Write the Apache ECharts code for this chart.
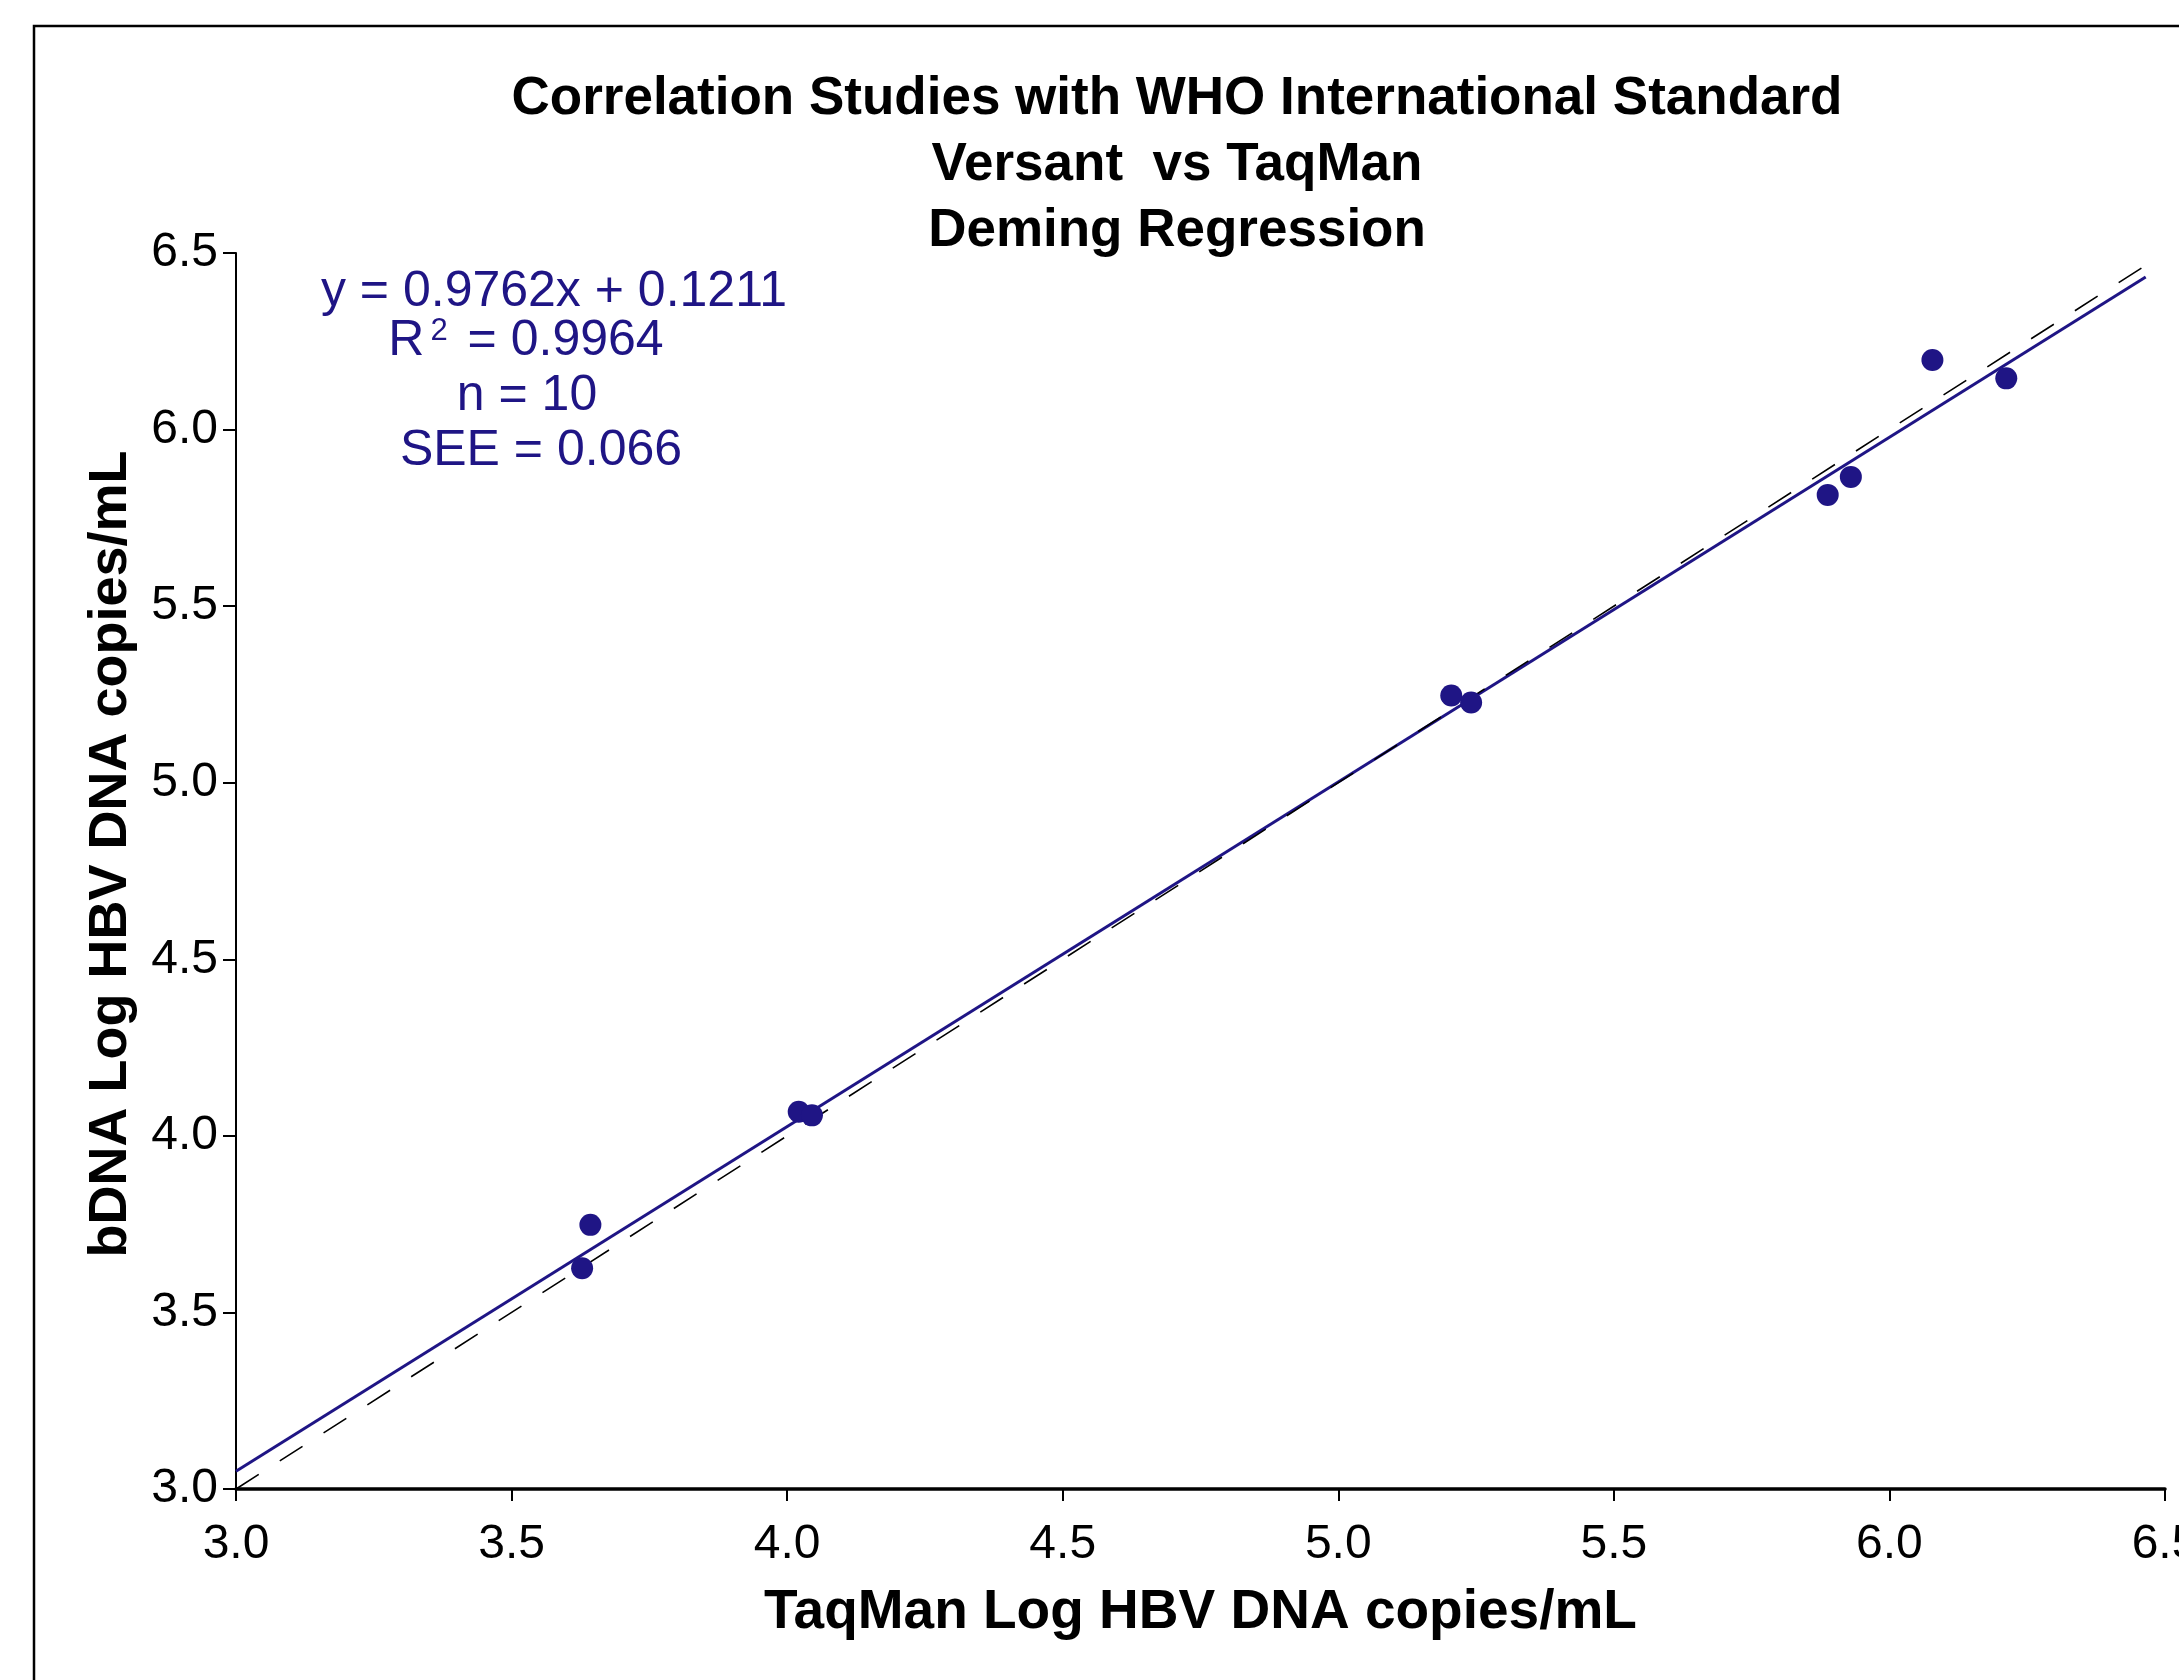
<!DOCTYPE html>
<html>
<head>
<meta charset="utf-8">
<title>Versant vs TaqMan - Deming Regression</title>
<script src="https://cdn.jsdelivr.net/npm/echarts@6/dist/echarts.min.js"></script>
<style>
  html, body { margin: 0; padding: 0; background: #fff; overflow: hidden; }
  #chart { width: 2179px; height: 1680px; }
</style>
</head>
<body>
<div id="chart"></div>
<script>
// measured values (log copies/mL)
const taqman = [3.628, 3.643, 4.021, 4.045, 5.205, 5.241, 5.888, 5.930, 6.078, 6.212];
const bdna   = [3.625, 3.748, 4.068, 4.058, 5.247, 5.227, 5.815, 5.866, 6.197, 6.145];

// Deming fit line and line of identity, end points
const fitX = [3.0, 6.465];
const fitY = [3.050, 6.432];
const idX = [3.0, 6.465];
const idY = [3.0, 6.465];

const titleLines = ['Correlation Studies with WHO International Standard', 'Versant  vs TaqMan', 'Deming Regression'];
const statLines = ['y = 0.9762x + 0.1211', 'R{sup|2} = 0.9964', 'n = 10', 'SEE = 0.066'];
const statCenters = [554, 526, 527, 541];
const statY = [292, 341, 396, 451];

const NAVY = '#1F1585';
const FONT = '"Liberation Sans", Arial, Helvetica, sans-serif';

const chart = echarts.init(document.getElementById('chart'));

const graphics = [{
    type: 'rect',
    shape: { x: 34, y: 26, width: 2300, height: 1800 },
    style: { fill: null, stroke: '#000', lineWidth: 2.5 },
    silent: true
}];
statLines.forEach(function (t, i) {
    graphics.push({
        type: 'text',
        x: statCenters[i],
        y: statY[i],
        style: {
            text: t,
            fill: NAVY,
            font: '50px ' + FONT,
            align: 'center',
            verticalAlign: 'middle',
            rich: {
                sup: { fontSize: 31, fill: NAVY, fontFamily: FONT, verticalAlign: 'top', padding: [0, 6, 18, 6] }
            }
        }
    });
});

chart.setOption({
    backgroundColor: '#fff',
    animation: false,
    title: {
        text: titleLines.join('\n'),
        left: 1172,
        top: 61,
        textAlign: 'center',
        textStyle: {
            fontFamily: FONT,
            fontWeight: 'bold',
            fontSize: 53,
            lineHeight: 66,
            color: '#000'
        }
    },
    grid: { left: 236, right: 14, top: 253, bottom: 191, containLabel: false, outerBoundsMode: 'none' },
    xAxis: {
        type: 'value',
        min: 3.0,
        max: 6.5,
        interval: 0.5,
        name: 'TaqMan Log HBV DNA copies/mL',
        nameLocation: 'middle',
        nameGap: 96,
        nameTextStyle: { fontFamily: FONT, fontWeight: 'bold', fontSize: 55, color: '#000' },
        axisLine: { lineStyle: { color: '#000', width: 3.5 } },
        axisTick: { length: 12, lineStyle: { color: '#000', width: 2 } },
        axisLabel: {
            fontFamily: FONT, fontSize: 48, color: '#000', margin: 32,
            formatter: function (v) { return v.toFixed(1); }
        },
        splitLine: { show: false }
    },
    yAxis: {
        type: 'value',
        min: 3.0,
        max: 6.5,
        interval: 0.5,
        name: 'bDNA Log HBV DNA copies/mL',
        nameLocation: 'middle',
        nameGap: 98,
        nameTextStyle: { fontFamily: FONT, fontWeight: 'bold', fontSize: 54, color: '#000', padding: [0, 0, 0, 34] },
        axisLine: { lineStyle: { color: '#000', width: 2 } },
        axisTick: { length: 13, lineStyle: { color: '#000', width: 2 } },
        axisLabel: {
            fontFamily: FONT, fontSize: 48, color: '#000', margin: 18,
            formatter: function (v) { return v.toFixed(1); }
        },
        splitLine: { show: false }
    },
    series: [
        {
            name: 'Deming fit',
            type: 'line',
            data: fitX.map(function (x, i) { return [x, fitY[i]]; }),
            showSymbol: false,
            lineStyle: { color: NAVY, width: 3 },
            z: 2
        },
        {
            name: 'Identity',
            type: 'line',
            data: idX.map(function (x, i) { return [x, idY[i]]; }),
            showSymbol: false,
            lineStyle: { color: '#000', width: 1.6, type: [27, 25] },
            z: 3
        },
        {
            name: 'Samples',
            type: 'scatter',
            data: taqman.map(function (x, i) { return [x, bdna[i]]; }),
            symbol: 'circle',
            symbolSize: 22,
            itemStyle: { color: NAVY, opacity: 1 },
            z: 4
        }
    ],
    graphic: graphics
});
</script>
</body>
</html>
